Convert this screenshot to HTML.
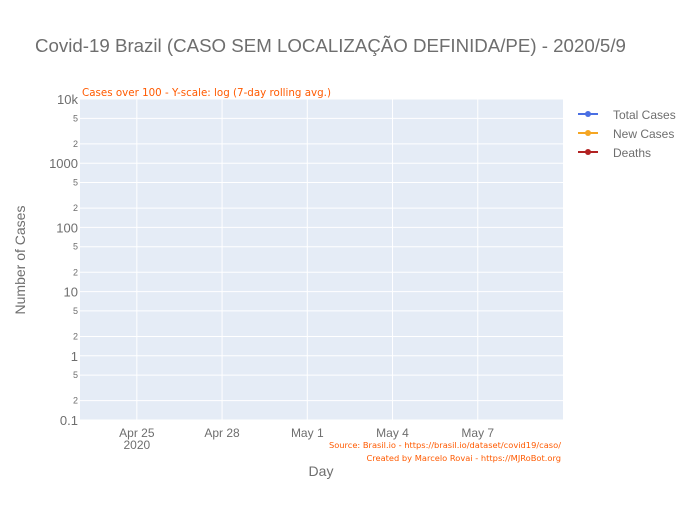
<!DOCTYPE html>
<html><head><meta charset="utf-8"><style>
body{margin:0;background:#fff;font-family:"Liberation Sans",Arial,sans-serif}
svg text{font-family:"Liberation Sans",Arial,sans-serif}
svg text.ann{font-family:"DejaVu Sans","Liberation Sans",sans-serif}
</style></head><body>
<svg id="c" width="700" height="500" xmlns="http://www.w3.org/2000/svg">
<rect width="700" height="500" fill="#fff"/>
<text x="35" y="52" font-size="18.7" fill="#6e6e6e">Covid-19 Brazil (CASO SEM LOCALIZAÇÃO DEFINIDA/PE) - 2020/5/9</text>
<rect x="80" y="99" width="483" height="321" fill="#e5ecf6"/>
<g id="grid"></g>
<g id="marks"></g>
<g id="yt"></g>
<g id="xt"></g>
<text class="ann" x="82" y="96" font-size="10.3" fill="#ff5a00">Cases over 100 - Y-scale: log (7-day rolling avg.)</text>
<text class="ann" x="561" y="448" font-size="8.3" fill="#ff5a00" text-anchor="end">Source: Brasil.io - https://brasil.io/dataset/covid19/caso/</text>
<text class="ann" x="561" y="461" font-size="8.3" fill="#ff5a00" text-anchor="end">Created by Marcelo Rovai - https://MJRoBot.org</text>
<text x="321" y="476" font-size="14" fill="#6e6e6e" text-anchor="middle">Day</text>
<text x="25" y="260" font-size="14" fill="#6e6e6e" text-anchor="middle" transform="rotate(-90 25 260)">Number of Cases</text>
<g>
<g><line x1="578" y1="114" x2="598" y2="114" stroke="#4a6fe3" stroke-width="2"/><circle cx="588" cy="114" r="3" fill="#4a6fe3"/><text x="613" y="119" font-size="12" fill="#6e6e6e">Total Cases</text></g>
<g><line x1="578" y1="133" x2="598" y2="133" stroke="#f5a623" stroke-width="2"/><circle cx="588" cy="133" r="3" fill="#f5a623"/><text x="613" y="138" font-size="12" fill="#6e6e6e">New Cases</text></g>
<g><line x1="578" y1="152" x2="598" y2="152" stroke="#b22222" stroke-width="2"/><circle cx="588" cy="152" r="3" fill="#b22222"/><text x="613" y="157" font-size="12" fill="#6e6e6e">Deaths</text></g>
</g>
</svg>
<script>
const xTickLabels=["Apr 25","Apr 28","May 1","May 4","May 7"];
const xTickDays=[2,5,8,11,14];
const yMajorVals=[0.1,1,10,100,1000,10000];
const yMajorLabels=["0.1","1","10","100","1000","10k"];
const yMinorVals=[0.2,0.5,2,5,20,50,200,500,2000,5000];
const days=[];
const totalCases=[];
const newCases=[];
const deaths=[];
const X0=80,X1=563,Y0=420,Y1=99,D0=0,D1=17;
const sx=d=>X0+(d-D0)/(D1-D0)*(X1-X0);
const sy=v=>Y0-(Math.log10(v)+1)/5*(Y0-Y1);
const NS="http://www.w3.org/2000/svg";
function mk(tag,a,parent){const e=document.createElementNS(NS,tag);for(const k in a)e.setAttribute(k,a[k]);document.getElementById(parent).appendChild(e);return e;}
yMajorVals.concat(yMinorVals).forEach(v=>{
 const l=mk('line',{x1:X0,x2:X1,y1:sy(v),y2:sy(v),stroke:'#fff','stroke-width':1},'grid');
 
 
});
xTickDays.forEach((d,i)=>{
 const l=mk('line',{x1:sx(d),x2:sx(d),y1:Y1,y2:Y0,stroke:'#fff','stroke-width':1},'grid');
 
 
 const t=mk('text',{x:sx(d),y:437,'font-size':12,fill:'#6e6e6e','text-anchor':'middle'},'xt');
 t.textContent=xTickLabels[i];
 
 
});
const yr=mk('text',{x:sx(2),y:449,'font-size':12,fill:'#6e6e6e','text-anchor':'middle'},'xt');
yr.textContent="2020";


yMajorVals.forEach((v,i)=>{
 const t=mk('text',{x:78,y:sy(v)+5,'font-size':13,fill:'#6e6e6e','text-anchor':'end'},'yt');
 t.textContent=yMajorLabels[i];
 
 
});
yMinorVals.forEach(v=>{
 const t=mk('text',{x:78,y:sy(v)+3,'font-size':9,fill:'#6e6e6e','text-anchor':'end'},'yt');
 const s=String(v);t.textContent=s[0]==='0'?s[2]:s[0];
 
 
});
[[totalCases,'#4a6fe3'],[newCases,'#f5a623'],[deaths,'#b22222']].forEach(([ser,col])=>{
 const pts=ser.map((v,i)=>sx(days[i])+','+sy(v)).join(' ');
 if(pts){const p=mk('polyline',{points:pts,fill:'none',stroke:col,'stroke-width':2},'marks');
 
 }
});
</script>
</body></html>
